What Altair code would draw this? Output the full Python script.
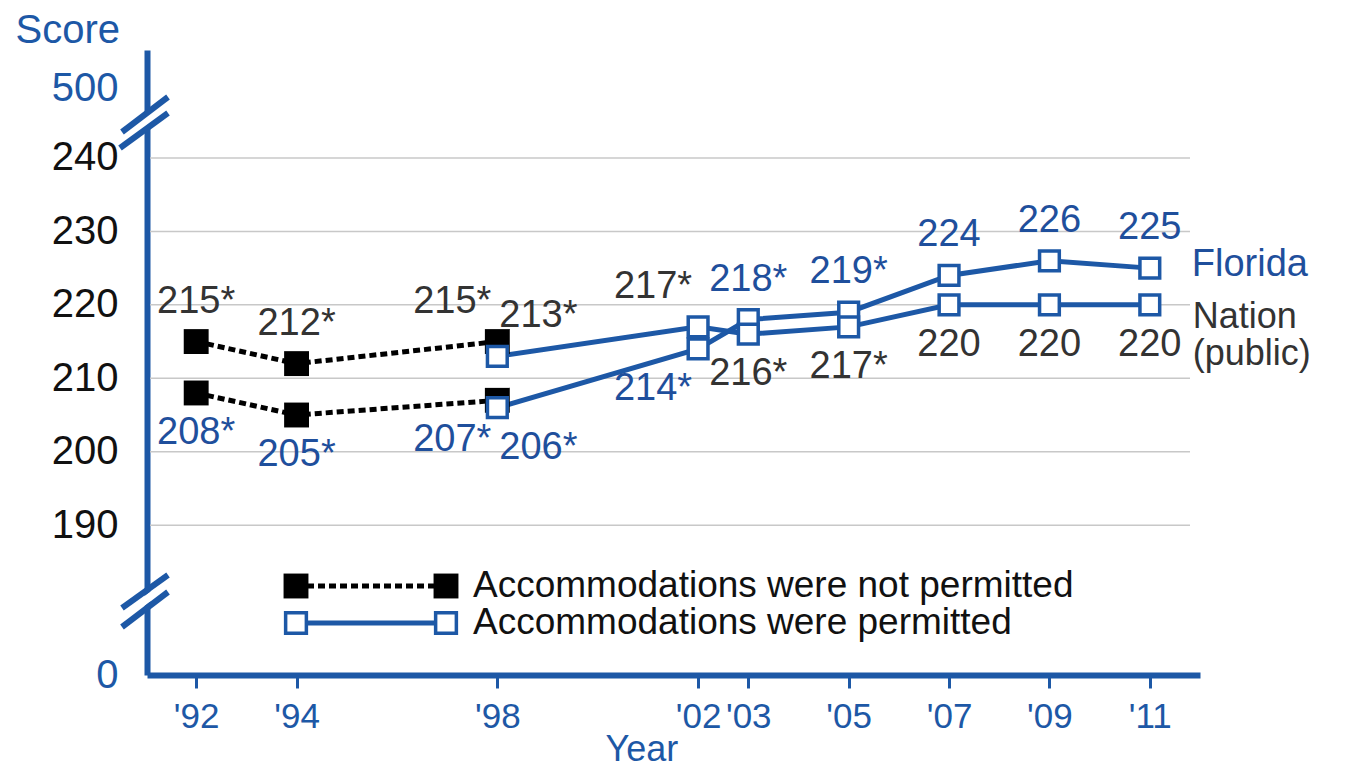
import altair as alt
import pandas as pd

# ---------------- data ----------------
years_not_permitted = [1992, 1994, 1998]
florida_not_permitted = [208, 205, 207]
nation_not_permitted = [215, 212, 215]
sig_not_permitted = [True, True, True]

years_permitted = [1998, 2002, 2003, 2005, 2007, 2009, 2011]
florida_permitted = [206, 214, 218, 219, 224, 226, 225]
nation_permitted = [213, 217, 216, 217, 220, 220, 220]
sig_permitted = [True, True, True, True, False, False, False]

x_tick_years = [1992, 1994, 1998, 2002, 2003, 2005, 2007, 2009, 2011]
grid_scores = [190, 200, 210, 220, 230, 240]
# broken axis: the true ends (0 and 500) are shown past the breaks
axis_bottom_value, axis_bottom_label = 169.6, "0"
axis_top_value, axis_top_label = 249.5, "500"
legend_labels = ["Accommodations were not permitted", "Accommodations were permitted"]
series_names = ["Florida", "Nation"]
series_texts = ["Florida", "Nation\n(public)"]

# ---------------- styling ----------------
FONT = "Liberation Sans"
BLUE = "#1d58a6"
TEXT_BLUE = "#1f4f9c"
GRAY = "#333333"
BLACK = "#111111"

rows = []
for status, years, fl, na, sig in [
    ("not", years_not_permitted, florida_not_permitted, nation_not_permitted, sig_not_permitted),
    ("perm", years_permitted, florida_permitted, nation_permitted, sig_permitted),
]:
    for i, yr in enumerate(years):
        for jur, vals, other in [("Florida", fl, na), ("Nation", na, fl)]:
            v = vals[i]
            side = "above" if v > other[i] else "below"
            if yr == 1998 and status == "not":
                anchor = "right"
            elif yr == 1998 and status == "perm":
                anchor = "left"
            elif yr == 2002:
                anchor = "right"
            else:
                anchor = "center"
            rows.append(dict(year=yr, score=v, jurisdiction=jur, status=status,
                             label=f"{v}*" if sig[i] else f"{v}", side=side, anchor=anchor))
df = pd.DataFrame(rows)

x_enc = alt.X(
    "year:Q",
    scale=alt.Scale(domain=[1991.02, 2012.0], nice=False, zero=False),
    axis=alt.Axis(
        values=x_tick_years,
        labelExpr="\"'\" + substring(toString(datum.value), 2)",
        grid=False, domainColor=BLUE, domainWidth=6, tickColor=BLUE, tickWidth=3,
        tickSize=13, labelFontSize=35, labelColor=BLUE, labelFont=FONT, labelPadding=11,
        labelFlush=False, labelOverlap=False,
        title="Year", titleFont=FONT, titleFontSize=36, titleColor=BLUE,
        titleFontWeight="normal", titleX=458, titleY=74, titleAlign="left",
        titleBaseline="middle",
    ),
)
y_enc = alt.Y(
    "score:Q",
    scale=alt.Scale(domain=[169.6, 254.7], nice=False, zero=False),
    axis=alt.Axis(
        values=[axis_bottom_value] + grid_scores + [axis_top_value],
        labelExpr=f"datum.value < 180 ? '{axis_bottom_label}' : (datum.value > 245 ? '{axis_top_label}' : format(datum.value, 'd'))",
        labelColor={"condition": {"test": "datum.value < 180 || datum.value > 245", "value": BLUE}, "value": BLACK},
        ticks=False, grid=False, domainColor=BLUE, domainWidth=6,
        labelFontSize=40, labelFont=FONT, labelPadding=29, labelOverlap=False,
        title="Score", titleAngle=0, titleX=-132, titleY=-20, titleAlign="left",
        titleBaseline="middle", titleColor=BLUE, titleFontSize=40, titleFont=FONT,
        titleFontWeight="normal",
    ),
)

base = alt.Chart(df)

grid = alt.Chart(pd.DataFrame({"score": grid_scores})).mark_rule(
    color="#c8c8c8", strokeWidth=1.5
).encode(y=y_enc, x=alt.value(3), x2=alt.value(1043))

line_not = base.transform_filter("datum.status == 'not'").mark_line(
    color="black", strokeDash=[7, 4], strokeWidth=5
).encode(x=x_enc, y=y_enc, detail="jurisdiction:N")

line_perm = base.transform_filter("datum.status == 'perm'").mark_line(
    color=BLUE, strokeWidth=5
).encode(x=x_enc, y=y_enc, detail="jurisdiction:N")

pts_not = base.transform_filter("datum.status == 'not'").mark_square(
    color="black", size=620, opacity=1
).encode(x=x_enc, y=y_enc)

pts_perm = base.transform_filter("datum.status == 'perm'").mark_square(
    fill="white", stroke=BLUE, strokeWidth=3.5, size=390, opacity=1
).encode(x=x_enc, y=y_enc)

color_enc = alt.Color("jurisdiction:N",
                      scale=alt.Scale(domain=series_names, range=[TEXT_BLUE, GRAY]),
                      legend=None)

text_layers = []
for side in ["above", "below"]:
    for anchor, dx in [("center", 0), ("right", -6), ("left", 2)]:
        text_layers.append(
            base.transform_filter(f"datum.side == '{side}' && datum.anchor == '{anchor}'")
            .mark_text(fontSize=38, font=FONT, align=anchor, baseline="middle",
                       dx=dx, dy=-40 if side == "above" else 40)
            .encode(x=x_enc, y=y_enc, text="label:N", color=color_enc)
        )

last_df = pd.DataFrame({
    "year": [years_permitted[-1]] * 2,
    "score": [florida_permitted[-1], nation_permitted[-1]],
    "jurisdiction": series_names,
    "name": series_texts,
})
fl_label = alt.Chart(last_df).transform_filter("datum.jurisdiction == 'Florida'").mark_text(
    fontSize=38, font=FONT, align="left", baseline="middle", dx=42, dy=-3
).encode(x=x_enc, y=y_enc, text="name:N", color=color_enc)
na_label = alt.Chart(last_df).transform_filter("datum.jurisdiction == 'Nation'").mark_text(
    fontSize=36, font=FONT, align="left", baseline="alphabetic", dx=43, dy=23,
    lineBreak="\n", lineHeight=37
).encode(x=x_enc, y=y_enc, text="name:N", color=color_enc)

one = pd.DataFrame({"k": [0]})


def seg(x1, y1, x2, y2, color, width):
    return alt.Chart(one).mark_rule(color=color, strokeWidth=width, strokeCap="butt").encode(
        x=alt.value(x1), y=alt.value(y1), x2=alt.value(x2), y2=alt.value(y2))


breaks = [
    seg(-8, 76.6, 8, 64.7, "white", 8),
    seg(-25, 82, 21, 47, BLUE, 6),
    seg(-27, 98, 21, 63, BLUE, 6),
    seg(-8, 555, 8, 543.1, "white", 8),
    seg(-25, 558, 21, 525, BLUE, 6),
    seg(-25, 577, 21, 542, BLUE, 6),
]

leg_y = [536, 573]
legend_layers = [
    alt.Chart(one).mark_rule(color="black", strokeWidth=5, strokeDash=[7, 4]).encode(
        x=alt.value(149), x2=alt.value(299), y=alt.value(leg_y[0])),
    seg(149, leg_y[1], 299, leg_y[1], BLUE, 5),
]
for xp in [149, 299]:
    legend_layers.append(alt.Chart(one).mark_square(color="black", size=620, opacity=1)
                         .encode(x=alt.value(xp), y=alt.value(leg_y[0])))
    legend_layers.append(alt.Chart(one).mark_square(fill="white", stroke=BLUE, strokeWidth=3.5,
                                                    size=430, opacity=1)
                         .encode(x=alt.value(xp), y=alt.value(leg_y[1])))
for i, lab in enumerate(legend_labels):
    legend_layers.append(alt.Chart(pd.DataFrame({"t": [lab]})).mark_text(
        fontSize=37, font=FONT, align="left", baseline="middle", color=BLACK
    ).encode(x=alt.value(326), y=alt.value(leg_y[i]), text="t:N"))

chart = alt.layer(
    grid, line_not, line_perm, pts_not, pts_perm, *text_layers, fl_label, na_label,
    *breaks, *legend_layers
).properties(
    width=1053, height=625,
    padding={"left": 139, "top": 42, "right": 150, "bottom": 95},
    autosize=alt.AutoSizeParams(type="none"),
    background="white",
).configure_view(stroke=None)

chart.save("out.html", embed_options={"renderer": "svg", "actions": False})
